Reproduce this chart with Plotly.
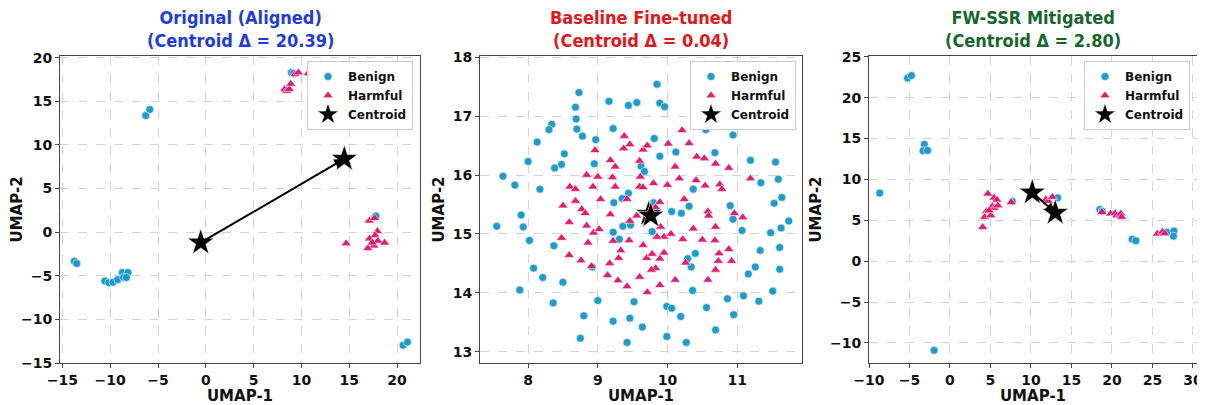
import plotly.graph_objects as go
from plotly.subplots import make_subplots

# ---------------- data ----------------
# Panel 1: Original (Aligned)
orig_benign_x = [8.95, 9.2, 17.65, 17.8, -6.28, -5.86, -13.75, -13.5, -10.56, -10.14, -9.7, -9.2,
                 -8.74, -8.6, -8.14, -8.3, 20.63, 21.09]
orig_benign_y = [18.3, 18.2, 1.74, 1.85, 13.37, 14.07, -3.33, -3.6, -5.6, -5.8, -5.74, -5.44,
                 -4.63, -5.19, -4.63, -5.2, -12.96, -12.6]
orig_harm_x = [8.25, 8.45, 8.74, 8.88, 9.33, 9.68, 10.7, 14.67, 17.1, 17.65, 17.93, 17.7, 17.12,
               18.0, 18.7, 17.58, 16.95, 17.4]
orig_harm_y = [16.4, 16.2, 16.4, 17.0, 18.1, 18.3, 18.2, -1.3, 1.3, 1.6, 0.1, -0.37, -0.74,
               -1.0, -1.22, -1.55, -1.85, -1.2]
orig_centroid_x = [-0.53, 14.49]   # benign, harmful
orig_centroid_y = [-1.19, 8.4]

# Panel 2: Baseline Fine-tuned
base_benign_x = [9.85, 8.73, 9.16, 9.44, 9.56, 9.89, 9.96, 8.68, 8.69, 8.34, 8.30, 9.22, 8.70, 8.78,
                 8.97, 8.13, 9.81, 10.94, 10.55, 10.12, 9.89, 10.68, 8.00, 8.52, 8.48, 8.38, 8.95,
                 9.62, 9.67, 11.55, 11.19, 7.64, 7.81, 8.17, 11.59, 11.34, 10.37, 9.44, 9.35, 9.23,
                 9.80, 11.64, 11.53, 10.90, 10.31, 10.06, 10.20, 7.90, 9.36, 10.94, 7.55, 7.93, 9.22,
                 9.78, 11.07, 11.48, 11.74, 11.63, 8.02, 9.31, 8.37, 11.33, 11.61, 10.29, 10.40,
                 11.26, 11.16, 10.34, 11.61, 8.08, 8.21, 8.50, 7.88, 10.36, 11.51, 11.09, 11.31,
                 8.36, 9.00, 9.52, 10.86, 9.99, 10.06, 10.56, 8.80, 9.46, 10.19, 9.22, 10.95, 9.64,
                 10.69, 8.75, 9.99, 9.42, 10.27, 8.92, 9.47]
base_benign_y = [17.54, 17.40, 17.25, 17.18, 17.23, 17.22, 17.16, 17.15, 16.95, 16.86, 16.77, 16.79,
                 16.78, 16.66, 16.60, 16.56, 16.62, 16.68, 16.77, 16.39, 16.32, 16.38, 16.23, 16.36,
                 16.18, 16.12, 16.19, 16.15, 16.06, 16.22, 16.25, 15.98, 15.83, 15.76, 15.93, 15.87,
                 15.76, 15.69, 15.60, 15.53, 15.53, 15.62, 15.52, 15.48, 15.47, 15.38, 15.35, 15.32,
                 15.13, 15.25, 15.13, 15.12, 15.03, 15.04, 15.06, 15.02, 15.22, 15.10, 14.89, 14.91,
                 14.80, 14.72, 14.77, 14.58, 14.67, 14.44, 14.32, 14.44, 14.40, 14.42, 14.26, 14.18,
                 14.05, 14.04, 14.03, 13.95, 13.86, 13.83, 13.87, 13.85, 13.90, 13.77, 13.74, 13.75,
                 13.61, 13.57, 13.60, 13.52, 13.63, 13.42, 13.37, 13.23, 13.26, 13.16, 13.16, 14.44,
                 15.15]
base_harm_x = [9.38, 9.46, 9.37, 8.96, 9.65, 9.71, 10.01, 10.21, 10.31, 10.42, 10.53, 10.69, 10.88,
               11.19, 9.18, 9.25, 9.60, 10.11, 8.84, 9.00, 9.21, 9.61, 10.17, 10.41, 8.60, 8.68,
               8.93, 9.25, 9.60, 9.65, 9.80, 10.00, 10.54, 10.75, 10.78, 8.50, 8.68, 8.77, 8.82,
               9.04, 9.42, 9.89, 9.83, 10.24, 10.58, 10.59, 10.96, 11.08, 8.59, 8.84, 8.94, 9.02,
               9.18, 9.46, 9.56, 9.74, 9.90, 9.95, 10.05, 10.37, 10.69, 8.48, 8.86, 9.22, 9.45,
               9.65, 9.85, 10.22, 10.50, 10.68, 9.33, 8.59, 8.76, 8.91, 9.17, 9.30, 9.70, 9.78,
               9.95, 9.89, 10.26, 10.74, 10.73, 10.88, 10.92, 9.83, 9.77, 9.14, 9.29, 9.60, 10.11,
               10.58, 10.69, 9.42, 9.89, 9.71]
base_harm_y = [16.66, 16.52, 16.45, 16.42, 16.43, 16.50, 16.53, 16.76, 16.54, 16.31, 16.28, 16.19,
               16.12, 15.94, 16.25, 16.14, 16.24, 16.14, 16.00, 15.97, 15.96, 15.97, 15.94, 15.91,
               15.80, 15.76, 15.80, 15.80, 15.80, 15.79, 15.86, 15.83, 15.82, 15.84, 15.76, 15.48,
               15.56, 15.42, 15.35, 15.59, 15.59, 15.54, 15.45, 15.59, 15.38, 15.31, 15.35, 15.28,
               15.20, 15.14, 15.02, 15.08, 15.33, 15.22, 15.31, 15.28, 15.12, 14.95, 15.00, 15.09,
               15.12, 14.93, 14.85, 14.88, 14.89, 14.81, 14.95, 14.91, 14.90, 14.89, 14.72, 14.64,
               14.55, 14.45, 14.50, 14.59, 14.59, 14.66, 14.68, 14.58, 14.51, 14.67, 14.54, 14.74,
               14.54, 14.42, 14.39, 14.30, 14.21, 14.27, 14.22, 14.22, 14.39, 14.11, 14.13, 14.01]
base_centroid_x = [9.73, 9.76]
base_centroid_y = [15.34, 15.31]

# Panel 3: FW-SSR Mitigated
fw_benign_x = [-5.24, -4.76, -8.68, -3.16, -3.32, -2.76, -1.96, 13.3, 7.7, 18.5, 18.8, 22.5, 22.95,
               26.8, 27.65, 27.6]
fw_benign_y = [22.4, 22.7, 8.33, 14.3, 13.5, 13.55, -10.9, 7.76, 7.3, 6.33, 6.1, 2.7, 2.5, 3.55,
               3.7, 3.06]
fw_harm_x = [4.68, 5.44, 5.8, 4.52, 4.28, 4.04, 5.04, 5.24, 5.48, 5.92, 4.84, 7.56, 11.84, 12.12,
             12.64, 18.76, 19.84, 20.4, 20.6, 21.1, 21.2, 25.6, 26.25, 26.5]
fw_harm_y = [8.24, 7.76, 7.5, 6.1, 5.4, 4.16, 5.6, 6.73, 6.5, 6.8, 6.2, 7.2, 7.55, 7.35, 7.84, 6.0,
             5.8, 5.88, 5.6, 5.8, 5.4, 3.35, 3.6, 3.4]
fw_centroid_x = [10.16, 13.0]
fw_centroid_y = [8.4, 5.92]

titles = ["Original (Aligned)<br>(Centroid Δ = 20.39)",
          "Baseline Fine-tuned<br>(Centroid Δ = 0.04)",
          "FW-SSR Mitigated<br>(Centroid Δ = 2.80)"]
title_colors = ["#1f3be0", "#e3161c", "#17662e"]

# ---------------- styling ----------------
BENIGN = "#1597c9"
HARM = "#e2126a"
TICKFONT = dict(family="DejaVu Sans", size=14, color="#111", weight="bold")
AXTITLEFONT = dict(family="DejaVu Sans", size=15, color="#111", weight="bold")

# the page body has an 8px margin: figure coordinates = page coordinates - 8
OFF = 8
W, H = 1205 - OFF, 405 - OFF


def fx(px):
    return (px - OFF) / W


def fy(py):
    return 1 - (py - OFF) / H


x_doms = [[fx(60), fx(420)], [fx(480), fx(802)], [fx(869), fx(1197)]]
y_dom = [fy(363), fy(56)]
x_ranges = [[-15.25, 22.4], [7.31, 11.93], [-10.0, 30.5]]
y_ranges = [[-15.0, 20.2], [12.81, 18.02], [-12.45, 25.1]]
x_dticks = [5, 1, 5]
y_dticks = [5, 1, 5]
legend_x = [fx(413), fx(796), fx(1190)]

panels = [
    (orig_benign_x, orig_benign_y, orig_harm_x, orig_harm_y, orig_centroid_x, orig_centroid_y),
    (base_benign_x, base_benign_y, base_harm_x, base_harm_y, base_centroid_x, base_centroid_y),
    (fw_benign_x, fw_benign_y, fw_harm_x, fw_harm_y, fw_centroid_x, fw_centroid_y),
]

fig = make_subplots(rows=1, cols=3)

for i, (bx, by, hx, hy, cx, cy) in enumerate(panels):
    leg = "legend" if i == 0 else f"legend{i + 1}"
    fig.add_trace(go.Scatter(x=bx, y=by, mode="markers", name="Benign", legend=leg,
                             marker=dict(symbol="circle", size=8, color=BENIGN, opacity=0.95,
                                         line=dict(color="white", width=0.6))),
                  row=1, col=i + 1)
    fig.add_trace(go.Scatter(x=hx, y=hy, mode="markers", name="Harmful", legend=leg,
                             marker=dict(symbol="triangle-up", size=9, color=HARM, opacity=0.95,
                                         line=dict(color="white", width=0.6))),
                  row=1, col=i + 1)
    fig.add_trace(go.Scatter(x=cx, y=cy, mode="markers", name="Centroid", legend=leg,
                             marker=dict(symbol="star", size=20, color="black",
                                         line=dict(color="white", width=0.6))),
                  row=1, col=i + 1)
    xa = "x" if i == 0 else f"x{i + 1}"
    ya = "y" if i == 0 else f"y{i + 1}"
    fig.add_annotation(x=cx[1], y=cy[1], ax=cx[0], ay=cy[0], xref=xa, yref=ya, axref=xa, ayref=ya,
                       text="", showarrow=True, arrowhead=2, arrowsize=1, arrowwidth=2,
                       arrowcolor="black")
    fig.add_annotation(x=0.5, y=1.0, xref=f"{xa} domain", yref=f"{ya} domain",
                       xanchor="center", yanchor="bottom", yshift=3, showarrow=False,
                       text=f"<b>{titles[i]}</b>", align="center",
                       font=dict(family="DejaVu Sans Condensed, DejaVu Sans", size=18,
                                 color=title_colors[i]))

    axis_common = dict(showline=True, mirror=True, linecolor="#444", linewidth=1,
                       ticks="outside", ticklen=4, tickcolor="#444", tickfont=TICKFONT,
                       showgrid=True, gridcolor="#d4d4d4", griddash="dash", gridwidth=1,
                       zeroline=False, automargin=False)
    fig.update_xaxes(axis_common, domain=x_doms[i], range=x_ranges[i], dtick=x_dticks[i],
                     tick0=0, title=dict(text="UMAP-1", font=AXTITLEFONT, standoff=4),
                     row=1, col=i + 1)
    fig.update_yaxes(axis_common, domain=y_dom, range=y_ranges[i], dtick=y_dticks[i],
                     tick0=0, title=dict(text="UMAP-2", font=AXTITLEFONT, standoff=4),
                     row=1, col=i + 1)

legend_common = dict(xanchor="right", yanchor="top", y=fy(61), bgcolor="rgba(255,255,255,0.9)",
                     bordercolor="#cccccc", borderwidth=1,
                     font=dict(family="DejaVu Sans", size=12, color="#111", weight="bold"),
                     tracegroupgap=0, itemwidth=30)
fig.update_layout(
    width=W, height=H,
    margin=dict(l=0, r=0, t=0, b=0),
    paper_bgcolor="white", plot_bgcolor="white",
    showlegend=True,
    legend=dict(legend_common, x=legend_x[0]),
    legend2=dict(legend_common, x=legend_x[1]),
    legend3=dict(legend_common, x=legend_x[2]),
)

fig.write_html("out.html")
